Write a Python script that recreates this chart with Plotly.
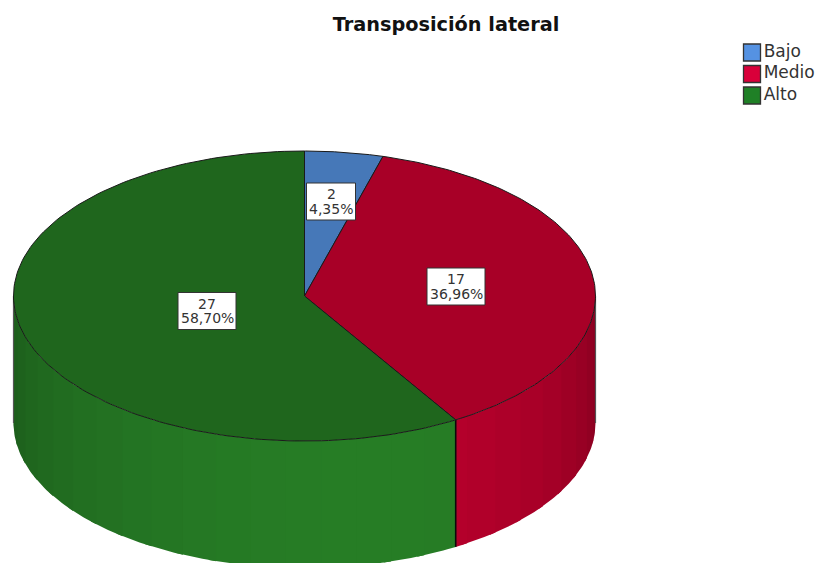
import numpy as np
import plotly.graph_objects as go

categories = ["Bajo", "Medio", "Alto"]
counts = [2, 17, 27]
percent_labels = ["4,35%", "36,96%", "58,70%"]
top_colors = ["#4678b8", "#a80027", "#1f661d"]
side_colors = [(70, 120, 184), (184, 0, 44), (39, 126, 38)]
legend_colors = ["#5592e2", "#d9003a", "#1f8026"]
box_centers = [(331, 201.5), (456, 286.5), (207, 311)]

W, H = 819, 563
CX, CY, RX, RY, DEPTH = 304.5, 296, 291, 145, 127
TEXT = "#333333"


def px(a, dy=0):
    r = np.radians(a)
    return CX + RX * np.sin(r), CY - RY * np.cos(r) + dy


fig = go.Figure()
total = sum(counts)
edges = np.concatenate([[0], np.cumsum(counts) / total * 360])


def side_rgb(base, a):
    d = abs(a - 165) / (75 if a < 165 else 105)
    f = 1 - 0.27 * d ** 1.7
    return "rgb({},{},{})".format(*[int(c * f) for c in base])


# front wall as shaded strips, each overlapping the next so no seams show
step = 7
for i in range(3):
    a0, a1 = max(edges[i], 90), min(edges[i + 1], 270)
    if a1 <= a0:
        continue
    for s in np.arange(a0, a1, step):
        e = min(s + step + 1.5, a1)
        t = np.linspace(s, e, 10)
        xt, yt = px(t)
        xb, yb = px(t[::-1], DEPTH)
        col = side_rgb(side_colors[i], s + step / 2)
        fig.add_trace(go.Scatter(
            x=np.r_[xt, xb, xt[0]], y=np.r_[yt, yb, yt[0]], mode="lines",
            fill="toself", fillcolor=col, line=dict(color=col, width=0),
            hoverinfo="skip", showlegend=False))

# wall edges
for a, c, w in [(90, "#555555", 1.2), (270, "#555555", 1.2), (edges[2], "#0a0a0a", 1.6)]:
    xa, ya = px(a)
    xb, yb = px(a, DEPTH)
    fig.add_trace(go.Scatter(x=[xa, xb], y=[ya, yb], mode="lines",
                             line=dict(color=c, width=w),
                             hoverinfo="skip", showlegend=False))

# top face wedges
for i in range(3):
    t = np.linspace(edges[i], edges[i + 1], 160)
    x, y = px(t)
    fig.add_trace(go.Scatter(
        x=np.r_[CX, x, CX], y=np.r_[CY, y, CY], mode="lines", fill="toself",
        fillcolor=top_colors[i], line=dict(color="#1a1a1a", width=1),
        hoverinfo="skip", showlegend=False))

# legend rows
legend_x, legend_y, legend_gap = 752, 52.5, 21.5
for i, name in enumerate(categories):
    fig.add_trace(go.Scatter(
        x=[legend_x], y=[legend_y + i * legend_gap], mode="markers+text",
        marker=dict(symbol="square", size=17, color=legend_colors[i],
                    line=dict(color="#333333", width=1.3)),
        text=[name], textposition="middle right",
        textfont=dict(family="DejaVu Sans", size=17, color=TEXT),
        cliponaxis=False, hoverinfo="skip", showlegend=False))

# value labels
shapes, annotations = [], []
for (bx, by), n, p in zip(box_centers, counts, percent_labels):
    hw = 24.5 if len(p) == 5 else 29
    shapes.append(dict(type="rect", x0=bx - hw, x1=bx + hw, y0=by - 18.5, y1=by + 18.5,
                       xref="x", yref="y", fillcolor="white",
                       line=dict(color="#333333", width=1)))
    for txt, dy in [(str(n), -7.5), (p, 7)]:
        annotations.append(dict(x=bx, y=by + dy, xref="x", yref="y", text=txt,
                                showarrow=False,
                                font=dict(family="DejaVu Sans", size=14, color=TEXT)))

fig.update_layout(
    width=W, height=H, autosize=False,
    margin=dict(l=0, r=0, t=0, b=0),
    paper_bgcolor="white", plot_bgcolor="white",
    title=dict(text="<b>Transposición lateral</b>",
               x=446 / W, y=1 - 24 / H,
               xanchor="center", yanchor="middle",
               font=dict(family="DejaVu Sans", size=19.3, color="#111111")),
    xaxis=dict(range=[0, W], visible=False, fixedrange=True),
    yaxis=dict(range=[H, 0], visible=False, fixedrange=True),
    shapes=shapes, annotations=annotations,
    showlegend=False,
)
fig.write_html("out.html", config=dict(displayModeBar=False),
               post_script="document.body.style.margin='0';")
